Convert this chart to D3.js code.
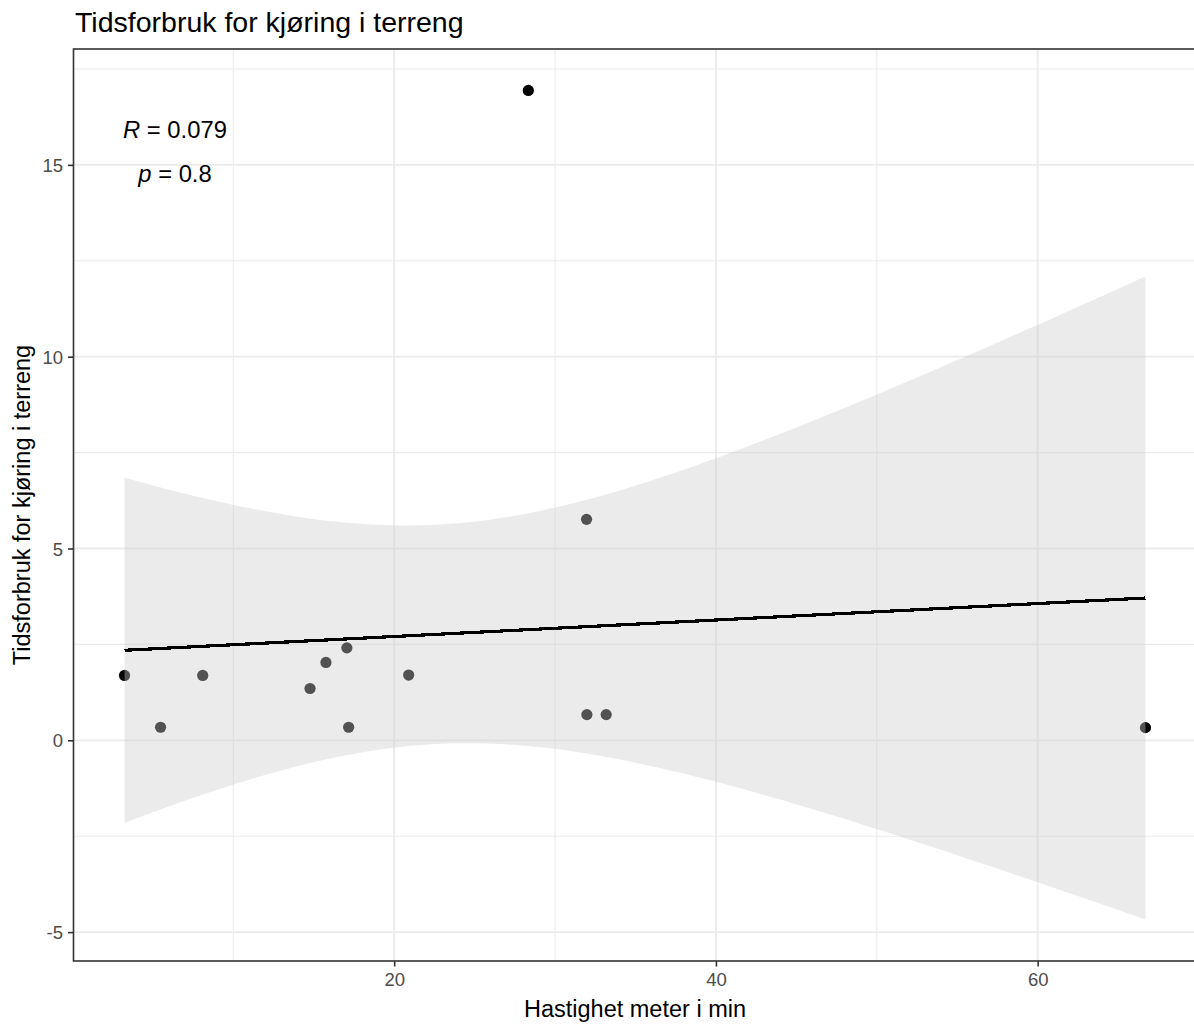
<!DOCTYPE html>
<html>
<head>
<meta charset="utf-8">
<script src="https://cdn.jsdelivr.net/npm/d3@7"></script>
<style>
  html, body { margin: 0; padding: 0; background: #fff; }
  svg { display: block; font-family: "Liberation Sans", Arial, sans-serif; }
</style>
</head>
<body>
<svg id="chart" width="1194" height="1025"></svg>
<script>
// ---- data ----
const speed = [3.24, 5.48, 8.1, 14.77, 15.76, 17.06, 17.17, 20.9, 28.34, 31.96, 31.98, 33.18, 66.7];
const timeUsed = [1.69, 0.34, 1.69, 1.35, 2.03, 2.41, 0.34, 1.70, 16.94, 5.76, 0.67, 0.67, 0.33];
const xTicks = [20, 40, 60];
const xMinor = [10, 30, 50];
const yTicks = [-5, 0, 5, 10, 15];
const yMinor = [-2.5, 2.5, 7.5, 12.5, 17.5];
const titleText = "Tidsforbruk for kjøring i terreng";
const xLabel = "Hastighet meter i min";
const yLabel = "Tidsforbruk for kjøring i terreng";
const statR = "0.079";
const statP = "0.8";

// ---- linear fit with 95% confidence band (as geom_smooth(method = "lm")) ----
const n = speed.length;
const mx = d3.mean(speed), my = d3.mean(timeUsed);
let sxx = 0, sxy = 0;
for (let i = 0; i < n; i++) { sxx += (speed[i]-mx)**2; sxy += (speed[i]-mx)*(timeUsed[i]-my); }
const slope = sxy / sxx, icpt = my - slope * mx;
let sse = 0;
for (let i = 0; i < n; i++) sse += (timeUsed[i] - (icpt + slope*speed[i]))**2;
const s = Math.sqrt(sse / (n - 2));
const tcrit = 2.200985; // qt(0.975, 11)
const [x0, x1] = d3.extent(speed);
const fit = d3.range(80).map(k => {
  const x = x0 + (x1 - x0) * k / 79;
  const yhat = icpt + slope * x;
  const se = s * Math.sqrt(1/n + (x-mx)**2 / sxx);
  return { x, y: yhat, lo: yhat - tcrit*se, hi: yhat + tcrit*se };
});

// ---- layout ----
const svg = d3.select("#chart");
const P = { left: 73.5, top: 49, width: 1123, height: 912 };
const xr = x1 - x0;
const yAll = timeUsed.concat(fit.map(d => d.lo), fit.map(d => d.hi));
const [yl0, yl1] = d3.extent(yAll);
const yr = yl1 - yl0;
const x = d3.scaleLinear().domain([x0 - 0.05*xr, x1 + 0.05*xr]).range([P.left, P.left + P.width]);
const y = d3.scaleLinear().domain([yl0 - 0.05*yr, yl1 + 0.05*yr]).range([P.top + P.height, P.top]);

const defs = svg.append("defs");
defs.append("clipPath").attr("id", "clip").append("rect")
  .attr("x", P.left).attr("y", P.top).attr("width", P.width).attr("height", P.height);

const panel = svg.append("g").attr("clip-path", "url(#clip)");
// grid
panel.selectAll(".gminx").data(xMinor).join("line")
  .attr("x1", d => x(d)).attr("x2", d => x(d)).attr("y1", P.top).attr("y2", P.top + P.height)
  .attr("stroke", "#ebebeb").attr("stroke-width", 1.1);
panel.selectAll(".gminy").data(yMinor).join("line")
  .attr("y1", d => y(d)).attr("y2", d => y(d)).attr("x1", P.left).attr("x2", P.left + P.width)
  .attr("stroke", "#ebebeb").attr("stroke-width", 1.1);
panel.selectAll(".gmajx").data(xTicks).join("line")
  .attr("x1", d => x(d)).attr("x2", d => x(d)).attr("y1", P.top).attr("y2", P.top + P.height)
  .attr("stroke", "#ebebeb").attr("stroke-width", 1.8);
panel.selectAll(".gmajy").data(yTicks).join("line")
  .attr("y1", d => y(d)).attr("y2", d => y(d)).attr("x1", P.left).attr("x2", P.left + P.width)
  .attr("stroke", "#ebebeb").attr("stroke-width", 1.8);

// points
panel.selectAll("circle").data(speed).join("circle")
  .attr("cx", (d) => x(d)).attr("cy", (d, i) => y(timeUsed[i]))
  .attr("r", 5.6).attr("fill", "#000");

// ribbon
panel.append("path").datum(fit)
  .attr("d", d3.area().x(d => x(d.x)).y0(d => y(d.lo)).y1(d => y(d.hi)))
  .attr("fill", "#cccccc").attr("fill-opacity", 0.4);

// fitted line
panel.append("path").datum(fit)
  .attr("d", d3.line().x(d => x(d.x)).y(d => y(d.y)))
  .attr("fill", "none").attr("stroke", "#000").attr("stroke-width", 3.2)
  .attr("shape-rendering", "crispEdges");

// border
svg.append("rect").attr("x", P.left).attr("y", P.top).attr("width", P.width).attr("height", P.height)
  .attr("fill", "none").attr("stroke", "#333333").attr("stroke-width", 1.6);

// axes
const xAxis = svg.append("g").attr("transform", `translate(0,${P.top + P.height})`)
  .call(d3.axisBottom(x).tickValues(xTicks).tickSize(5.5).tickPadding(6).tickFormat(d => String(d)));
const yAxis = svg.append("g").attr("transform", `translate(${P.left},0)`)
  .call(d3.axisLeft(y).tickValues(yTicks).tickSize(5.5).tickPadding(5).tickFormat(d => String(d)));
[xAxis, yAxis].forEach(g => {
  g.select(".domain").remove();
  g.selectAll(".tick line").attr("stroke", "#333333").attr("stroke-width", 1.6);
  g.selectAll(".tick text").attr("fill", "#4d4d4d").style("font-size", "18.5px")
    .style("font-family", '"Liberation Sans", Arial, sans-serif');
});
yAxis.selectAll(".tick text").attr("dy", "0.36em");
xAxis.selectAll(".tick text").attr("dy", "0.74em");

// labels
svg.append("text").attr("x", 75).attr("y", 32).attr("font-size", 28.5).attr("fill", "#000").text(titleText);
svg.append("text").attr("x", P.left + P.width/2).attr("y", 1017).attr("text-anchor", "middle")
  .attr("font-size", 23.5).attr("fill", "#000").text(xLabel);
svg.append("text").attr("transform", `translate(30,${P.top + P.height/2}) rotate(-90)`)
  .attr("text-anchor", "middle").attr("font-size", 23.5).attr("fill", "#000").text(yLabel);

// correlation annotation
const ann = svg.append("g").attr("font-size", 23.8).attr("fill", "#000");
const t1 = ann.append("text").attr("x", 175).attr("y", 138).attr("text-anchor", "middle");
t1.append("tspan").attr("font-style", "italic").text("R");
t1.append("tspan").text(" = " + statR);
const t2 = ann.append("text").attr("x", 175).attr("y", 182).attr("text-anchor", "middle");
t2.append("tspan").attr("font-style", "italic").text("p");
t2.append("tspan").text(" = " + statP);
</script>
</body>
</html>
